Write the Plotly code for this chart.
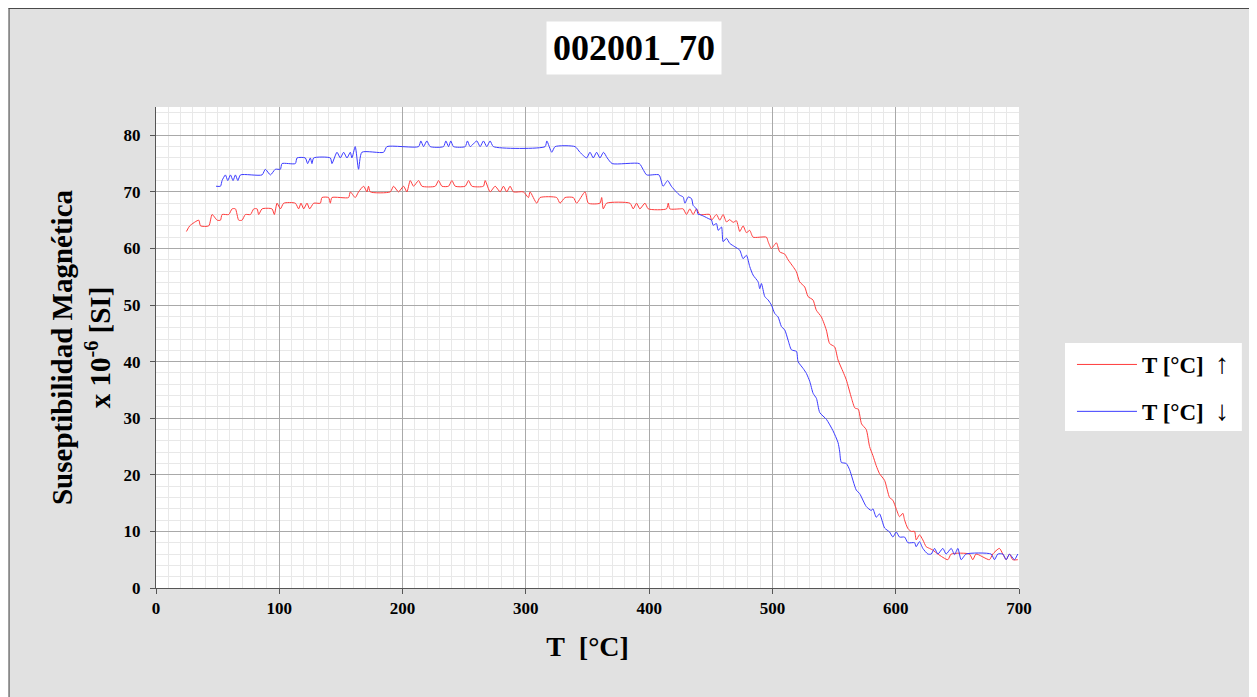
import plotly.graph_objects as go

# ---------------- data ----------------
red_T = [24.7, 27.4, 34.7, 36.1, 42.8, 45.5, 49.6, 52.3, 53.6, 59.0, 61.7, 64.4, 67.1, 69.8,
         72.5, 76.6, 79.3, 82.0, 83.3, 86.0, 94.1, 96.0, 98.2, 100.9, 103.6, 113.0, 115.7, 117.6,
         119.8, 122.5, 124.6, 127.9, 133.3, 134.6, 140.0, 141.4, 142.7, 156.2, 157.6, 161.6, 164.3,
         168.4, 171.1, 172.4, 173.8, 190.0, 192.7, 196.7, 200.8, 203.5, 206.2, 208.9, 213.0, 215.7,
         226.5, 229.2, 231.9, 237.3, 240.0, 242.7, 250.8, 253.5, 256.2, 265.6, 267.0, 271.0, 275.1,
         279.1, 281.8, 284.5, 287.2, 289.9, 298.0, 302.1, 303.4, 308.8, 311.5, 325.0, 327.7, 331.8,
         338.5, 341.2, 348.0, 350.7, 360.1, 361.5, 362.8, 365.5, 384.4, 387.1, 389.8, 392.5, 396.6,
         399.3, 414.1, 415.5, 416.8, 424.9, 427.6, 430.3, 433.0, 435.7, 438.4, 441.1, 449.2, 450.6,
         454.6, 457.3, 460.0, 462.7, 465.4, 468.1, 470.8, 473.5, 476.2, 478.9, 481.6, 484.3, 495.1,
         496.5, 499.2, 503.2, 505.9, 510.0, 512.7, 516.7, 519.4, 522.1, 526.2, 528.9, 532.9, 535.6,
         539.7, 543.7, 546.4, 550.5, 553.2, 557.3, 559.9, 564.2, 566.9, 569.6, 572.3, 576.1, 578.8,
         581.5, 584.2, 586.9, 591.0, 595.0, 597.7, 600.4, 603.1, 605.8, 607.2, 609.9, 612.6, 615.3,
         616.6, 619.3, 622.0, 624.7, 627.4, 630.1, 634.2, 642.3, 645.0, 659.8, 662.5, 665.2, 676.0,
         678.7, 684.1, 686.9, 689.6, 692.3, 694.9, 699.0]
red_chi = [63, 64, 65, 64, 64, 66, 65, 65, 66, 66, 67, 67, 65, 65,
           66, 66, 67, 67, 66, 67, 67, 66, 68, 67, 68, 68, 67, 68,
           67, 68, 67, 68, 68, 69, 69, 68, 69, 69, 70, 69, 70,
           71, 70, 71, 70, 70, 71, 70, 71, 70, 72, 71, 72, 71,
           71, 72, 71, 71, 72, 71, 71, 72, 71, 71, 72, 70, 71,
           70, 71, 70, 71, 70, 70, 69, 70, 68, 69, 69, 68, 69,
           69, 68, 70, 68, 68, 69, 67, 68, 68, 67, 68, 67, 68,
           67, 67, 68, 67, 67, 67, 66, 67, 66, 67, 66, 66, 65,
           66, 65, 66, 64.7, 65.1, 64.6, 64.9, 63, 64, 62.8, 63.2, 62, 62,
           61.2, 60, 61, 59.4, 59, 58, 56.8, 55.9, 54.1, 53.2, 51.5, 50.9, 49.1,
           47.9, 45.6, 43.2, 42.6, 40.3, 38.2, 36.8, 33.5, 31.8, 31.6, 29, 28, 25,
           23.4, 21.6, 20.2, 19, 16, 15.5, 14, 12.6, 13.2, 12, 10.5, 10, 10,
           8.5, 9.4, 8.5, 7.3, 7, 6.7, 6, 5, 6, 6, 5, 6, 5,
           6, 7, 6, 5, 6, 5, 5]

blue_T = [48.7, 52.3, 53.6, 56.3, 58.2, 60.4, 62.5, 64.4, 66.4, 68.5, 86.0, 88.7, 92.8, 96.8,
          100.9, 102.2, 113.0, 114.4, 121.1, 123.0, 125.2, 126.5, 127.9, 141.4, 142.7, 146.8, 149.5,
          152.2, 154.9, 157.6, 158.9, 161.6, 164.3, 167.0, 184.6, 187.3, 213.0, 214.8, 217.0, 219.7,
          222.4, 233.2, 235.1, 237.3, 239.1, 241.3, 250.8, 252.6, 254.8, 260.2, 262.9, 265.6, 268.3,
          271.0, 273.7, 315.6, 317.0, 321.0, 323.7, 339.9, 343.9, 349.3, 352.0, 354.7, 357.4, 360.1,
          363.0, 366.0, 370.0, 392.0, 395.0, 398.0, 408.0, 411.3, 415.0, 418.0, 422.0, 424.9, 427.6,
          429.0, 431.7, 434.4, 435.7, 438.4, 439.8, 441.1, 445.2, 447.9, 450.6, 451.9, 454.6, 456.0,
          458.7, 460.0, 462.7, 465.4, 469.5, 473.5, 476.2, 478.9, 481.6, 484.3, 488.4, 489.7, 491.1,
          493.8, 496.5, 499.2, 501.9, 504.6, 507.3, 510.0, 512.7, 515.4, 519.5, 520.8, 524.9, 527.6,
          530.3, 533.0, 535.7, 538.4, 543.8, 549.1, 553.2, 554.5, 555.9, 559.9, 562.6, 568.0, 570.7,
          576.1, 580.2, 581.5, 584.2, 586.9, 591.0, 595.0, 597.7, 600.4, 603.1, 607.2, 609.9, 615.3,
          616.6, 619.3, 622.0, 626.1, 628.8, 631.5, 634.2, 638.2, 640.9, 645.0, 647.7, 650.4, 653.1,
          657.1, 677.4, 680.1, 682.8, 686.9, 689.6, 692.3, 696.3, 699.0]
blue_chi = [71, 71, 72, 73, 72, 73, 72, 73, 72, 73, 73, 74, 73, 74,
            74, 75, 75, 76, 76, 75, 76, 75, 76, 76, 75, 77, 76,
            77, 76, 77, 76, 78, 74, 77, 77, 78, 78, 79, 78, 79,
            78, 78, 79, 78, 79, 78, 78, 79, 78, 79, 78, 79, 78,
            79, 78, 78, 79, 77, 78, 78, 77, 76, 77, 76, 77, 76,
            77, 76, 75, 75, 74, 73, 73, 71, 72, 71, 70, 69.4, 69.1,
            68, 69.1, 68.8, 67.6, 67, 66, 66, 65.6, 65.3, 65, 64.1, 64.4, 63.2,
            63.8, 61.2, 61.8, 60.9, 60.3, 59.7, 58.2, 58.8, 56.8, 55.3, 54.1, 52.9, 53.8,
            51.5, 50.9, 50, 48.5, 47.9, 46.2, 45.6, 43.8, 42.1, 41.8, 40, 38.8, 37.9,
            36.5, 34.4, 33.5, 31, 29.8, 27.8, 25.7, 24.2, 22.2, 22, 20.9, 17.3, 16.7,
            14.4, 13.7, 14.0, 12.5, 13.1, 10.6, 9.9, 9.0, 9.9, 9.0, 9.0, 8.0, 8.0,
            7.3, 8.2, 7.0, 6.0, 6.0, 7.0, 6.0, 7.0, 6.0, 7.0, 5.9, 7.0, 5.0,
            6.0, 6.0, 5.0, 6.0, 6.0, 5.0, 6.0, 5.0, 6.0]

series_names = ["T [°C]\u00a0\u00a0<span style=\"font-size:28px\">↑</span>",
                "T [°C]\u00a0\u00a0<span style=\"font-size:28px\">↓</span>"]
chart_title = "002001_70"
x_title = "T\u00a0\u00a0[°C]"
y_title = "Suseptibilidad Magnética<br>x 10<sup>-6</sup> [SI]"
x_ticks = [0, 100, 200, 300, 400, 500, 600, 700]
y_ticks = [0, 10, 20, 30, 40, 50, 60, 70, 80]

# ---------------- figure ----------------
W, H = 1257, 697
OFF = 8                      # page offset of the figure (body margin)
ML, PW = 147.5, 863.5        # plot area in figure pixels
MT, PH = 99, 481
MR = W - ML - PW
MB = H - MT - PH


def px(xp):
    """page x pixel -> paper fraction"""
    return (xp - OFF - ML) / PW


def py(yp):
    """page y pixel -> paper fraction"""
    return (MT + PH - (yp - OFF)) / PH


FONT = "Liberation Serif, Times New Roman, serif"

fig = go.Figure()
fig.add_trace(go.Scatter(x=red_T, y=red_chi, mode="lines", name=series_names[0],
                         legendgroup="a",
                         line=dict(color="#ff3b3b", width=1, shape="spline", smoothing=0.6)))
fig.add_trace(go.Scatter(x=blue_T, y=blue_chi, mode="lines", name=series_names[1],
                         legendgroup="b",
                         line=dict(color="#3b3bff", width=1, shape="spline", smoothing=0.6)))

axis_common = dict(
    showline=True, linecolor="#555555", linewidth=1,
    gridcolor="#a9a9a9", gridwidth=1,
    ticks="outside", ticklen=5, tickcolor="#555555",
    tickfont=dict(family=FONT, size=17, color="black", weight="bold"),
    zeroline=False,
)

fig.update_xaxes(range=[0, 700], tickvals=x_ticks, **axis_common,
                 minor=dict(dtick=10, showgrid=True, gridcolor="#e8e8e8", gridwidth=1, ticks=""),
                 title=dict(text=x_title, font=dict(family=FONT, size=28, color="black", weight="bold"),
                            standoff=18))
fig.update_yaxes(range=[0, 85], tickvals=y_ticks, **axis_common,
                 minor=dict(dtick=2, showgrid=True, gridcolor="#e8e8e8", gridwidth=1, ticks=""),
                 ticklabelstandoff=6,
                 title=dict(text=y_title, font=dict(family=FONT, size=29, color="black", weight="bold"),
                            standoff=4))

shapes = [
    # dark border along the top and left edges of the grey panel
    dict(type="line", xref="paper", yref="paper", x0=-ML / PW, x1=(W - ML) / PW,
         y0=(MT + PH - 0.5) / PH, y1=(MT + PH - 0.5) / PH, line=dict(color="#4a4a4a", width=1)),
    dict(type="line", xref="paper", yref="paper", x0=-(ML - 0.5) / PW, x1=-(ML - 0.5) / PW,
         y0=-(MB) / PH, y1=(MT + PH) / PH, line=dict(color="#4a4a4a", width=1)),
    # white legend panel
    dict(type="rect", xref="paper", yref="paper", x0=px(1065), x1=px(1242), y0=py(431), y1=py(343),
         fillcolor="white", line=dict(width=0), layer="above"),
]

fig.update_layout(
    width=W, height=H,
    margin=dict(l=ML, r=MR, t=MT, b=MB, autoexpand=False),
    paper_bgcolor="#e1e1e1", plot_bgcolor="white",
    shapes=shapes,
    showlegend=True,
    legend=dict(x=px(1072), y=py(343), xanchor="left", yanchor="top",
                bgcolor="rgba(0,0,0,0)", borderwidth=0, itemwidth=60, tracegroupgap=14,
                font=dict(family=FONT, size=23, color="black", weight="bold")),
    annotations=[dict(text=chart_title, xref="paper", yref="paper", x=px(634), y=py(48),
                      xanchor="center", yanchor="middle", showarrow=False,
                      bgcolor="white", borderpad=6,
                      font=dict(family=FONT, size=36, color="black", weight="bold"))],
)

fig.write_html("out.html")
